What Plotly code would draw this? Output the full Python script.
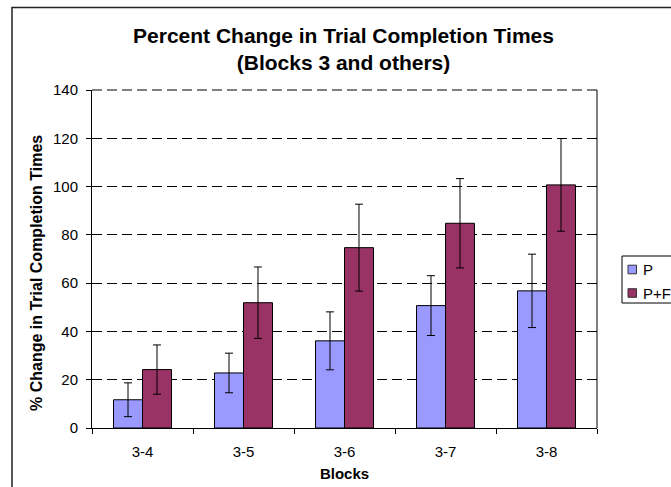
import plotly.graph_objects as go

categories = ["3-4", "3-5", "3-6", "3-7", "3-8"]
p_values = [11.7, 22.8, 36.1, 50.7, 56.8]
p_errors = [7.0, 8.2, 12.0, 12.4, 15.2]
pf_values = [24.2, 51.9, 74.7, 84.8, 100.7]
pf_errors = [10.2, 14.8, 18.0, 18.5, 19.2]
series_names = ["P", "P+F"]
series_colors = ["#9999FF", "#993366"]
y_ticks = [0, 20, 40, 60, 80, 100, 120, 140]
chart_title = "Percent Change in Trial Completion Times<br>(Blocks 3 and others)"
x_title = "Blocks"
y_title = "% Change in Trial Completion Times"

FONT = "Arial, Liberation Sans, sans-serif"

fig = go.Figure()
for name, vals, errs, col in zip(series_names, [p_values, pf_values], [p_errors, pf_errors], series_colors):
    fig.add_trace(go.Bar(
        x=categories, y=vals, name=name, showlegend=False,
        marker=dict(color=col, line=dict(color="black", width=1)),
        error_y=dict(type="data", array=errs, visible=True, color="black", thickness=1, width=4),
    ))

W, H = 671, 487
PL, PT, PW, PH = 92, 90, 505, 338   # plot area in window pixels
L, T = PL, PT
R = W - L - PW
B = H - T - PH

def px_x(x):
    return (x - PL) / PW

def px_y(y):
    return (PT + PH - y) / PH

shapes = [
    dict(type="line", xref="paper", yref="paper", x0=1, x1=1, y0=0, y1=1,
         line=dict(color="black", width=1)),
    dict(type="line", xref="paper", yref="paper", x0=0, x1=1, y0=1, y1=1,
         line=dict(color="black", width=1, dash="10px,5px")),
    dict(type="rect", xref="paper", yref="paper",
         x0=px_x(12), x1=px_x(720), y0=px_y(7.5), y1=px_y(540),
         line=dict(color="#222222", width=1.5), layer="below"),
    dict(type="rect", xref="paper", yref="paper",
         x0=px_x(622), x1=px_x(700), y0=px_y(256), y1=px_y(303),
         line=dict(color="black", width=1), fillcolor="white"),
]
annotations = [
    dict(text="<b>%s</b>" % y_title, xref="paper", yref="paper", textangle=-90,
         x=px_x(36), y=px_y(273), xanchor="center", yanchor="middle", showarrow=False,
         font=dict(size=16, family=FONT, color="black")),
]
legend_y = [269.5, 293]
for name, col, ly in zip(series_names, series_colors, legend_y):
    shapes.append(dict(type="rect", xref="paper", yref="paper",
                       x0=px_x(628), x1=px_x(636.5), y0=px_y(ly - 4.3), y1=px_y(ly + 4.3),
                       line=dict(color="#333333", width=1), fillcolor=col))
    annotations.append(dict(text=name, xref="paper", yref="paper", x=px_x(641), y=px_y(ly),
                            xanchor="left", yanchor="middle", showarrow=False,
                            font=dict(size=15, family=FONT, color="black")))

fig.update_layout(
    width=W, height=H,
    margin=dict(l=L, r=R, t=T, b=B, autoexpand=False),
    paper_bgcolor="white", plot_bgcolor="white",
    font=dict(family=FONT, color="black", size=15),
    barmode="group", bargap=0.426, bargroupgap=0,
    showlegend=False,
    title=dict(
        text="<b>%s</b>" % chart_title,
        font=dict(family=FONT, size=21, color="black"),
        x=343.5 / W, xref="container", xanchor="center",
        y=1 - 42.5 / H, yref="container", yanchor="top",
    ),
    xaxis=dict(
        type="category", showline=True, linecolor="black", linewidth=1,
        ticks="outside", tickson="boundaries", ticklen=5, tickcolor="black",
        showgrid=False, ticklabelstandoff=10,
        title=dict(text="<b>%s</b>" % x_title, font=dict(size=15), standoff=9),
        tickfont=dict(size=15),
    ),
    yaxis=dict(
        range=[0, 140], tickvals=y_ticks, showline=True, linecolor="black", linewidth=1,
        ticks="outside", ticklen=5, tickcolor="black", ticklabelstandoff=5,
        showgrid=True, gridcolor="black", gridwidth=1, griddash="10px,5px",
        zeroline=False,
        tickfont=dict(size=15),
    ),
    shapes=shapes,
    annotations=annotations,
)

fig.write_html(
    "out.html",
    config={"displayModeBar": False},
    post_script="document.body.style.margin='0';document.body.style.overflow='hidden';",
)
